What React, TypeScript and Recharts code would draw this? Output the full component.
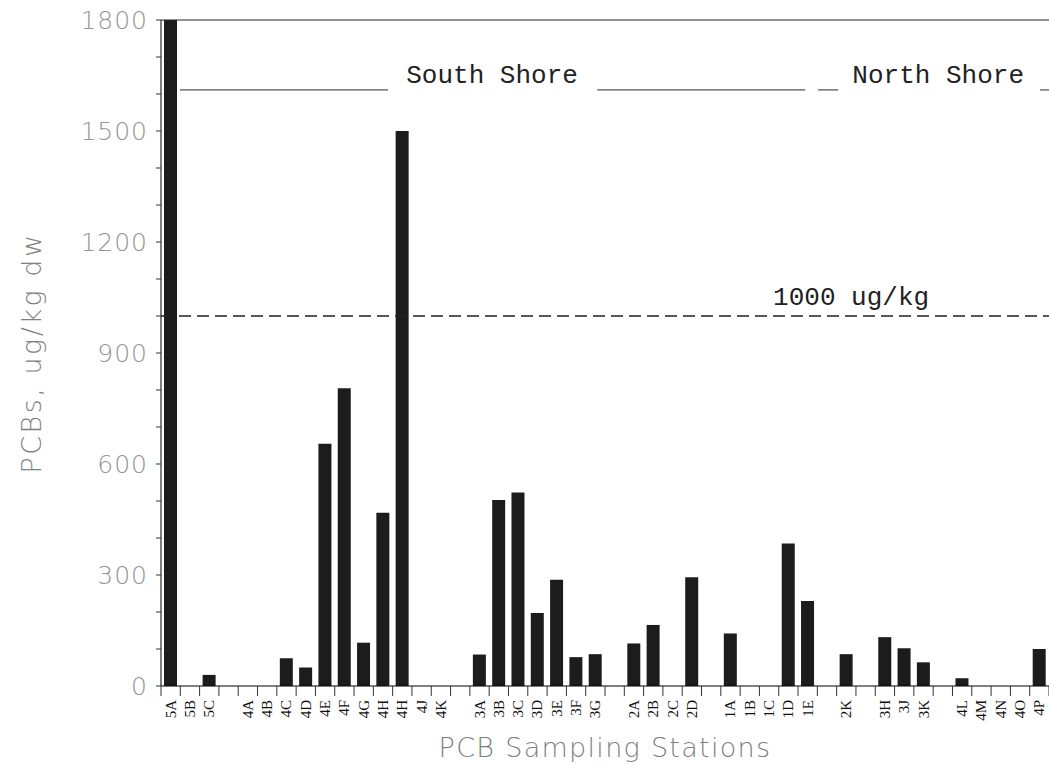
import React from "react";
import { BarChart, Bar, XAxis, YAxis, ReferenceLine } from "recharts";

// station labels along the x axis, "" marks an empty slot between groups
const stations = [
  "5A", "5B", "5C", "",
  "4A", "4B", "4C", "4D", "4E", "4F", "4G", "4H", "4H", "4J", "4K", "",
  "3A", "3B", "3C", "3D", "3E", "3F", "3G", "",
  "2A", "2B", "2C", "2D", "",
  "1A", "1B", "1C", "1D", "1E", "",
  "2K", "",
  "3H", "3J", "3K", "",
  "4L", "4M", "4N", "4O", "4P",
];

// PCBs, ug/kg dry weight
const pcbs = [
  1800, 0, 30, null,
  0, 0, 75, 50, 655, 805, 117, 468, 1500, 0, 0, null,
  85, 503, 523, 197, 287, 78, 86, null,
  115, 165, 0, 294, null,
  142, 0, 0, 385, 230, null,
  86, null,
  132, 102, 64, null,
  21, 0, 0, 0, 100,
];

const yTicks = [0, 100, 200, 300, 400, 500, 600, 700, 800, 900, 1000, 1100, 1200, 1300, 1400, 1500, 1600, 1700, 1800];
const yLabelStep = 300;
const threshold = 1000;

const data = stations.map((s, i) => ({ station: s, pcb: pcbs[i] }));

const W = 1049;
const H = 766;
const axisW = 161;
const plotBottom = 686;
const unit = (W - axisW) / stations.length; // width of one station slot

const sans = "'DejaVu Sans', sans-serif";
const mono = "'Liberation Mono', 'DejaVu Sans Mono', monospace";
const lineColor = "#2a2a2a";

const StationTick = ({ x, index, payload }: any) => (
  <g>
    <line x1={x - unit / 2} x2={x - unit / 2} y1={plotBottom} y2={plotBottom + 10} stroke="#333" />
    {index === stations.length - 1 && (
      <line x1={x + unit / 2} x2={x + unit / 2} y1={plotBottom} y2={plotBottom + 10} stroke="#333" />
    )}
    <text
      transform={`translate(${x},700) rotate(-90)`}
      textAnchor="end"
      dominantBaseline="central"
      fontFamily="'Liberation Serif', serif"
      fontSize={15}
      fill="#111"
    >
      {payload.value}
    </text>
  </g>
);

const ValueTick = ({ x, y, payload }: any) =>
  payload.value % yLabelStep === 0 ? (
    <text
      x={x - 6}
      y={y}
      textAnchor="end"
      dominantBaseline="central"
      fontFamily={sans}
      fontWeight={200}
      fontSize={25}
      letterSpacing={1}
      fill="#959595"
    >
      {payload.value}
    </text>
  ) : (
    <g />
  );

// shore bracket lines, positions in station slots
const shoreSegments = [
  [0.98, 11.76],
  [22.6, 33.37],
  [34.04, 35.08],
  [45.54, 46],
];

const ShoreLines = ({ viewBox }: any) => (
  <g>
    {shoreSegments.map(([a, b], i) => (
      <line
        key={i}
        x1={viewBox.x + a * unit}
        x2={viewBox.x + b * unit}
        y1={viewBox.y}
        y2={viewBox.y}
        stroke={lineColor}
      />
    ))}
  </g>
);

const noteText = (items: [string, number][]) => ({ viewBox }: any) => (
  <g>
    {items.map(([t, pos]) => (
      <text
        key={t}
        x={viewBox.x + pos * unit}
        y={viewBox.y}
        textAnchor="middle"
        dominantBaseline="central"
        fontFamily={mono}
        fontSize={26}
        fill="#222"
      >
        {t}
      </text>
    ))}
  </g>
);

export default function App() {
  return (
    <div style={{ position: "absolute", left: 0, top: 0, background: "#fff" }}>
      <BarChart
        width={W}
        height={H}
        data={data}
        margin={{ top: 20, right: 0, bottom: 0, left: 0 }}
      >
        <XAxis
          dataKey="station"
          interval={0}
          height={H - plotBottom}
          axisLine={{ stroke: "#000" }}
          tickLine={false}
          tick={<StationTick />}
          label={{
            content: () => (
              <text
                x={605}
                y={757}
                textAnchor="middle"
                fontFamily={sans}
                fontWeight={200}
                fontSize={27}
                letterSpacing={1.3}
                fill="#808080"
              >
                PCB Sampling Stations
              </text>
            ),
          }}
        />
        <YAxis
          domain={[0, 1800]}
          ticks={yTicks}
          interval={0}
          allowDataOverflow
          width={axisW}
          tickSize={5}
          tick={<ValueTick />}
          axisLine={{ stroke: "#000" }}
          tickLine={{ stroke: "#333" }}
          label={{
            content: () => (
              <text
                transform="translate(31,353) rotate(-90)"
                textAnchor="middle"
                dominantBaseline="central"
                fontFamily={sans}
                fontWeight={200}
                fontSize={27}
                letterSpacing={2.5}
                fill="#808080"
              >
                PCBs, ug/kg dw
              </text>
            ),
          }}
        />
        <ReferenceLine y={1800} stroke="#222" />
        <ReferenceLine
          y={threshold}
          stroke="#222"
          strokeWidth={1.3}
          strokeDasharray="12 6"
        />
        <ReferenceLine y={1611} stroke="none" label={{ content: ShoreLines }} />
        <ReferenceLine
          y={1648}
          stroke="none"
          label={{ content: noteText([["South Shore", 17.15], ["North Shore", 40.26]]) }}
        />
        <ReferenceLine
          y={1049}
          stroke="none"
          label={{ content: noteText([["1000 ug/kg", 35.75]]) }}
        />
        <Bar dataKey="pcb" fill="#1c1c1c" barSize={13} isAnimationActive={false} />
      </BarChart>
    </div>
  );
}
